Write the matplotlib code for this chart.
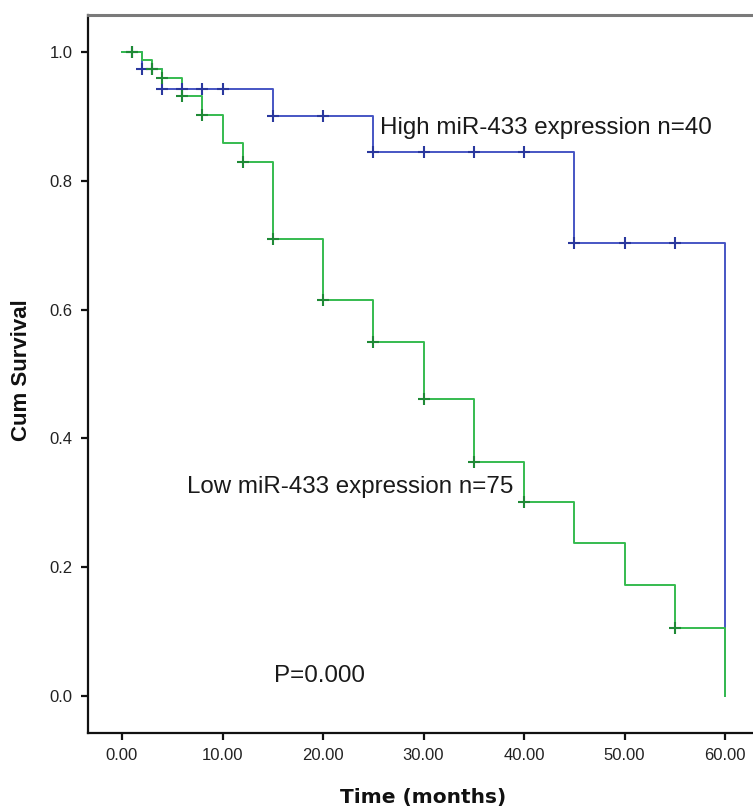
import matplotlib
matplotlib.use("Agg")
import matplotlib.pyplot as plt
import numpy as np

# ---- data ----
high_times = [0, 2, 4, 15, 25, 45, 60]
high_surv = [1.0, 0.973, 0.942, 0.901, 0.845, 0.703, 0.0]
high_censor = [1, 2, 3, 4, 6, 8, 10, 15, 20, 25, 30, 35, 40, 45, 50, 55]

low_times = [0, 2, 3, 4, 6, 8, 10, 12, 15, 20, 25, 30, 35, 40, 45, 50, 55, 60]
low_surv = [1.0, 0.987, 0.973, 0.959, 0.931, 0.902, 0.858, 0.829, 0.710, 0.615,
            0.550, 0.461, 0.364, 0.302, 0.237, 0.172, 0.106, 0.0]
low_censor = [1, 3, 4, 6, 8, 12, 15, 20, 25, 30, 35, 40, 55]

x_ticks = [0, 10, 20, 30, 40, 50, 60]
x_tick_labels = ["0.00", "10.00", "20.00", "30.00", "40.00", "50.00", "60.00"]
y_ticks = [0.0, 0.2, 0.4, 0.6, 0.8, 1.0]
y_tick_labels = ["0.0", "0.2", "0.4", "0.6", "0.8", "1.0"]

label_high = "High miR-433 expression n=40"
label_low = "Low miR-433 expression n=75"
p_text = "P=0.000"


def step_value(times, surv, t):
    idx = np.searchsorted(np.asarray(times), t, side="right") - 1
    return np.asarray(surv)[idx]


W, H = 753, 811
fig = plt.figure(figsize=(W / 100, H / 100), dpi=100)
ax = fig.add_axes([88 / W, (H - 733) / H, (W - 88) / W, (733 - 15) / H])

blue = "#4655c4"
blue_dark = "#2a389e"
green = "#35bb4f"
green_dark = "#1f8a36"

ax.step(high_times, high_surv, where="post", color=blue, lw=1.4, zorder=2)
ax.step(low_times, low_surv, where="post", color=green, lw=1.4, zorder=3)

hc_y = [step_value(high_times, high_surv, t) for t in high_censor]
lc_y = [step_value(low_times, low_surv, t) for t in low_censor]
ax.plot(high_censor, hc_y, linestyle="none", marker="+", ms=8, mew=1.5,
        color=blue_dark, zorder=4)
ax.plot(low_censor, lc_y, linestyle="none", marker="+", ms=8, mew=1.5,
        color=green_dark, zorder=5)

ax.set_xlim(-34 / 10.05, (W - 122) / 10.05)
ax.set_ylim(-37 / 644, 1 + 37 / 644)

ax.set_xticks(x_ticks)
ax.set_xticklabels(x_tick_labels, fontsize=12, family="Liberation Sans",
                   color="#222222")
ax.set_yticks(y_ticks)
ax.set_yticklabels(y_tick_labels, fontsize=12, family="Liberation Sans",
                   color="#222222")
ax.tick_params(axis="both", direction="out", length=5, width=1.6,
               color="#111111", pad=6)

ax.spines["right"].set_visible(False)
ax.spines["top"].set_color("#7a7a7a")
ax.spines["top"].set_linewidth(2.2)
ax.spines["left"].set_linewidth(1.6)
ax.spines["bottom"].set_linewidth(1.6)
ax.spines["left"].set_color("#111111")
ax.spines["bottom"].set_color("#111111")

txt_kw = dict(fontsize=17.4, family="Liberation Sans", color="#1a1a1a",
              va="center", ha="left")
ax.text(25.7, 0.882, label_high, **txt_kw)
ax.text(6.5, 0.325, label_low, **txt_kw)
ax.text(15.1, 0.031, p_text, **txt_kw)

fig.text(22 / W, 1 - 370 / H, "Cum Survival", rotation=90, ha="center",
         va="center", fontsize=16, fontweight="bold", family="Liberation Sans",
         color="#111111")
fig.text(423 / W, 1 - 798 / H, "Time (months)", ha="center", va="center",
         fontsize=14.5, fontweight="bold", family="DejaVu Sans",
         color="#111111")

fig.savefig("out.png", dpi=100)
